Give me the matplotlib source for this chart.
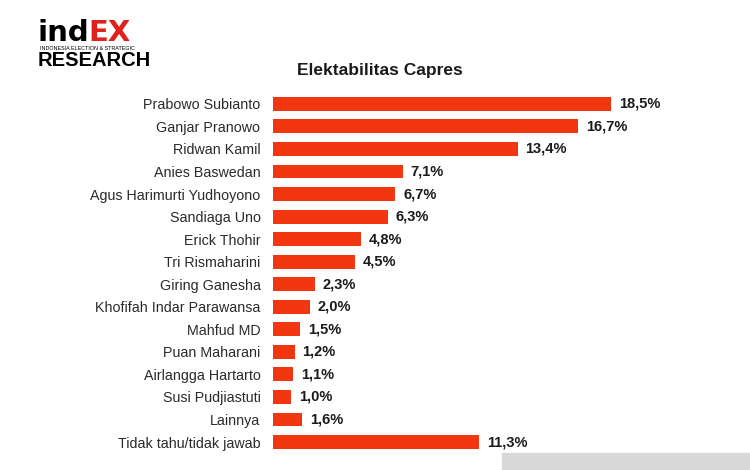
import matplotlib.pyplot as plt
from matplotlib.patches import Rectangle

names = ["Prabowo Subianto", "Ganjar Pranowo", "Ridwan Kamil", "Anies Baswedan",
         "Agus Harimurti Yudhoyono", "Sandiaga Uno", "Erick Thohir", "Tri Rismaharini",
         "Giring Ganesha", "Khofifah Indar Parawansa", "Mahfud MD", "Puan Maharani",
         "Airlangga Hartarto", "Susi Pudjiastuti", "Lainnya", "Tidak tahu/tidak jawab"]
values = [18.5, 16.7, 13.4, 7.1, 6.7, 6.3, 4.8, 4.5, 2.3, 2.0, 1.5, 1.2, 1.1, 1.0, 1.6, 11.3]

plt.rcParams['font.family'] = ['Liberation Sans', 'DejaVu Sans']
bar_color = '#f2360f'

fig = plt.figure(figsize=(7.5, 4.7), dpi=100)
ax = fig.add_axes([273/750, 0.0355, (700-273)/750, 0.7675])

y = list(range(len(names)))
ax.barh(y, values, height=0.62, color=bar_color)
ax.set_ylim(len(names) - 0.5, -0.5)
ax.set_xlim(0, 23.37)
for i, v in enumerate(values):
    ax.text(v + 0.42, i, ("%.1f" % v).replace('.', ',') + '%', va='center', ha='left',
            fontsize=10.5, fontweight='bold', color='#1a1a1a')
ax.set_yticks(y)
ax.set_yticklabels(names, fontsize=10.3, color='#2a2a2a')
ax.tick_params(axis='y', length=0, pad=9)
ax.set_xticks([])
for s in ax.spines.values():
    s.set_visible(False)

fig.text(380/750, 1 - 70/470, "Elektabilitas Capres", ha='center', va='center',
         fontsize=12.5, fontweight='bold', color='#1a1a1a')

# logo
t1 = fig.text(38/750, 1 - 33/470, "ind", ha='left', va='center', fontsize=21,
              fontweight='heavy', color='black', family='DejaVu Sans')
fig.canvas.draw()
bb = t1.get_window_extent()
fig.text(bb.x1 / 750 - 1/750, 1 - 33/470, "EX", ha='left', va='center', fontsize=21,
         fontweight='heavy', color='#e0201b', family='DejaVu Sans')
fig.text(40/750, 1 - 48.5/470, "INDONESIA ELECTION & STRATEGIC", ha='left', va='center',
         fontsize=3.9, color='black')
fig.text(38/750, 1 - 61/470, "RESEARCH", ha='left', va='center', fontsize=14.5,
         fontweight='bold', color='black')

# grey strip bottom right
fig.patches.append(Rectangle((502/750, 0), 248/750, 17/470, transform=fig.transFigure,
                             color='#d8d8d8', zorder=0))

fig.savefig('out.png', dpi=100)
